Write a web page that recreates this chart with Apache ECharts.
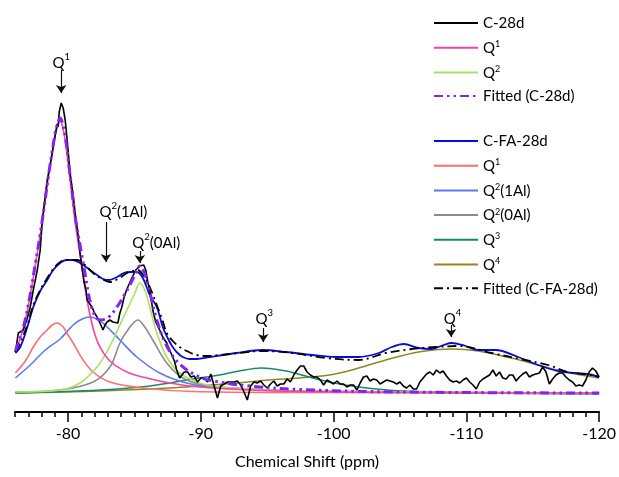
<!DOCTYPE html>
<html><head><meta charset="utf-8">
<script src="https://cdn.jsdelivr.net/npm/echarts@6/dist/echarts.min.js"></script>
<style>html,body{margin:0;padding:0;background:#fff}#c{width:619px;height:477px}</style>
</head><body><div id="c"></div>
<script>
// ---- data (x = chemical shift in ppm, y = intensity a.u.) ----
const xTickLabels = [-80, -90, -100, -110, -120];

const c28d = [[-76.03,41],[-76.25,60],[-76.40,58],[-76.63,63],[-76.93,75],[-77.15,86],[-77.38,103],[-77.68,123],[-77.90,143],[-78.05,171],[-78.28,198],[-78.43,213],[-78.65,228],[-78.88,246],[-79.03,258],[-79.18,269],[-79.25,266],[-79.33,281],[-79.48,290],[-79.63,285],[-79.78,273],[-79.93,253],[-80.15,220],[-80.38,198],[-80.53,180],[-80.75,158],[-80.90,140],[-81.05,125],[-81.20,111],[-81.35,103],[-81.43,93],[-81.58,91],[-81.80,86],[-81.95,81],[-82.18,76],[-82.40,70],[-82.63,63],[-82.78,68],[-82.93,71],[-83.15,73],[-83.38,71],[-83.53,72],[-83.75,70],[-83.90,80],[-84.05,86],[-84.20,95],[-84.35,101],[-84.50,106],[-84.65,108],[-84.80,115],[-84.95,117],[-85.10,123],[-85.25,121],[-85.40,127],[-85.55,125],[-85.70,128],[-85.85,123],[-86.00,111],[-86.15,103],[-86.38,83],[-86.60,71],[-86.90,63],[-87.13,56],[-87.43,50],[-87.65,43],[-87.88,36],[-88.03,31],[-88.18,23],[-88.40,15],
[-88.5,16],[-88.75,21],[-89,21],[-89.25,16],[-89.5,17],[-89.75,11],[-90,15],[-90.25,15],[-90.5,11],[-90.75,19],[-91,7],[-91.25,-5],[-91.5,7],[-91.75,9],[-92,11],[-92.25,11],[-92.5,11],[-92.75,12],[-93,8],[-93.25,1],[-93.5,-7],[-93.75,7],[-94,11],[-94.25,10],[-94.5,12],[-94.75,8],[-95,5],[-95.25,9],[-95.5,12],[-95.75,7],[-96,9],[-96.25,9],[-96.5,14],[-96.75,11],[-97,18],[-97.25,23],[-97.5,27],[-97.75,27],[-98,21],[-98.25,18],[-98.5,16],[-98.75,16],[-99,13],[-99.25,8],[-99.5,13],[-99.75,11],[-100,9],[-100.25,12],[-100.5,9],[-100.75,9],[-101,6],[-101.25,8],[-101.5,8],[-101.75,3],[-102,10],[-102.25,16],[-102.5,17],[-102.75,12],[-103,14],[-103.25,13],[-103.5,9],[-103.75,11],[-104,13],[-104.25,12],[-104.5,11],[-104.75,9],[-105,11],[-105.25,7],[-105.5,5],[-105.75,8],[-106,4],[-106.25,4],[-106.5,11],[-106.75,15],[-107,19],[-107.25,21],[-107.5,18],[-107.75,23],[-108,20],[-108.25,22],[-108.5,17],[-108.75,13],[-109,11],[-109.25,12],[-109.5,10],[-109.75,13],[-110,15],[-110.25,11],[-110.5,8],[-110.75,4],[-111,11],[-111.25,14],[-111.5,16],[-111.75,18],[-112,23],[-112.25,17],[-112.5,21],[-112.75,15],[-113,14],[-113.25,18],[-113.5,18],[-113.75,12],[-114,16],[-114.25,19],[-114.5,21],[-114.75,16],[-115,18],[-115.25,19],[-115.5,20],[-115.75,26],[-116,21],[-116.25,9],[-116.5,14],[-116.75,18],[-117,20],[-117.25,20],[-117.5,16],[-117.75,13],[-118,11],[-118.25,7],[-118.5,8],[-118.75,7],[-119,13],[-119.25,21],[-119.5,25],[-119.75,22],[-120,16]];

const q1C28d = [[-76.03,41],[-76.40,55],[-76.78,73],[-77.15,98],[-77.53,128],[-77.90,158],[-78.28,193],[-78.65,228],[-79.03,258],[-79.25,269],[-79.40,272],[-79.55,268],[-79.78,253],[-80.15,213],[-80.53,171],[-80.90,138],[-81.28,105],[-81.65,78],[-82.03,58],[-82.40,46],[-83.15,32],[-84.43,21],[-85.93,15],[-87.65,10],[-89.90,6],[-93.65,3],[-97.40,1.5],[-104.9,0.5],[-120,0]];

const q2C28d = [[-76.03,1],[-79.40,3],[-80.90,10],[-82.18,26],[-82.78,38],[-83.38,53],[-83.90,68],[-84.43,83],[-85.03,100],[-85.40,110],[-85.78,103],[-86.15,86],[-86.68,60],[-87.43,36],[-88.40,20],[-89.90,10],[-91.40,6],[-97.40,2],[-120,0]];

const fitC28d = [[-76.03,42],[-76.40,56],[-76.78,74],[-77.15,99],[-77.53,129],[-77.90,159],[-78.28,194],[-78.65,229],[-79.03,260],[-79.25,271],[-79.40,275],[-79.55,271],[-79.78,257],[-80.15,218],[-80.53,177],[-80.90,148],[-81.28,119],[-81.65,92],[-82.03,77],[-82.40,73],[-82.78,74],[-83.15,77],[-83.68,86],[-84.28,99],[-84.65,108],[-85.03,118],[-85.40,127],[-85.78,119],[-86.15,101],[-86.68,73],[-87.43,47],[-88.40,29],[-89.90,16],[-91.40,11],[-93.65,7],[-97.40,3.5],[-104.9,1],[-120,0]];

const cFA28d = [[-76.03,40],[-76.40,46],[-76.93,66],[-77.38,86],[-77.90,102],[-78.43,113],[-78.88,123],[-79.40,130],[-79.85,133],[-80.30,133],[-80.75,131],[-81.13,128],[-81.65,123],[-82.18,118],[-82.63,114],[-83.08,113],[-83.68,116],[-84.20,120],[-84.65,121],[-85.18,121],[-85.63,115],[-86.15,98],[-86.68,86],[-87.13,66],[-87.50,55],[-87.88,46],[-88.25,40],[-88.63,36],[-89.15,34],[-89.68,34],[-90.65,36],[-92.68,40],[-94.63,43],[-96.43,41],[-98.38,38],[-100.18,36],[-101.90,36],[-103.40,40],[-104.38,46],[-105.28,49],[-106.40,45],[-107.38,44],[-108.28,48],[-108.88,50],[-109.93,47],[-110.90,43],[-112.18,43],[-113.90,36],[-115.40,28],[-116.90,22],[-118.18,20],[-119.15,19],[-120,16]];

const q1CFA = [[-76.03,20],[-76.78,32],[-77.38,46],[-77.90,56],[-78.43,63],[-78.80,68],[-79.18,70],[-79.63,66],[-80.00,58],[-80.38,50],[-81.13,33],[-81.88,21],[-83.15,11],[-85.63,5],[-89.38,1.5],[-97.40,0.5],[-120,0]];

const q2Al1 = [[-76.03,15],[-77.15,28],[-78.28,43],[-79.40,54],[-80.38,68],[-81.05,74],[-81.65,76],[-82.18,74],[-82.63,70],[-83.90,53],[-85.18,36],[-86.90,20],[-88.93,10],[-91.40,5],[-97.40,2],[-120,0]];

const q2Al0 = [[-76.03,1],[-79.40,3],[-81.88,11],[-83.15,26],[-83.90,50],[-84.50,63],[-85.25,73],[-85.78,66],[-86.38,53],[-87.43,30],[-88.63,15],[-90.13,8],[-91.40,6],[-97.40,2],[-120,0]];

const q3CFA = [[-76.03,0],[-82.40,3],[-86.15,7],[-89.38,14],[-91.40,18],[-92.90,22],[-94.55,25],[-96.43,22],[-98.15,16],[-99.65,11],[-101.9,6],[-105.13,2],[-110.9,0],[-120,-1]];

const q4CFA = [[-76.03,0],[-82.40,2],[-87.65,5],[-92.68,10],[-95.15,13],[-97.40,15],[-99.65,18],[-101.38,23],[-103.93,33],[-106.40,41],[-108.88,44],[-110.90,42],[-113.38,35],[-115.40,28],[-117.43,21],[-120,15]];

const fitCFA = [[-76.03,41],[-76.40,50],[-76.93,68],[-77.38,88],[-77.90,103],[-78.43,115],[-78.88,124],[-79.40,131],[-80.00,133],[-80.68,133],[-81.28,128],[-81.88,120],[-82.55,114],[-83.15,111],[-83.75,114],[-84.43,120],[-84.88,122],[-85.25,123],[-85.70,117],[-86.15,106],[-86.68,88],[-87.13,72],[-87.43,60],[-87.88,52],[-88.40,46],[-88.93,42],[-89.68,38],[-90.65,37],[-91.40,38],[-92.90,40],[-94.63,42],[-96.88,40],[-99.43,35],[-101.90,33],[-103.93,40],[-105.88,44],[-107.68,46],[-109.40,47],[-111.88,40],[-114.43,33],[-116.15,28],[-117.65,21],[-119.38,18],[-120,16]];

// peak annotations
const annLabels = ['Q1', 'Q2(1Al)', 'Q2(0Al)', 'Q3', 'Q4'];
const annLabelX = [-79.48, -84.16, -86.64, -94.78, -108.95];
const annLabelY = [332, 183, 152, 76, 76];
const arrowX = [-79.48, -82.85, -85.4, -94.7, -108.85];
const arrowFrom = [323, 171, 142, 65, 68];
const arrowTo = [300, 131, 130, 51, 56];

// ---- chart ----
const FONT = 'Lato, "Open Sans", sans-serif';
const TXT = '#000';
const legendText = {
  'C-28d': '{n|C-28d}',
  'Q1 (C-28d)': '{n|Q}{s|1}',
  'Q2 (C-28d)': '{n|Q}{s|2}',
  'Fitted (C-28d)': '{n|Fitted (C-28d)}',
  'C-FA-28d': '{n|C-FA-28d}',
  'Q1 (C-FA-28d)': '{n|Q}{s|1}',
  'Q2(1Al)': '{n|Q}{s|2}{n|(1Al)}',
  'Q2(0Al)': '{n|Q}{s|2}{n|(0Al)}',
  'Q3': '{n|Q}{s|3}',
  'Q4': '{n|Q}{s|4}',
  'Fitted (C-FA-28d)': '{n|Fitted (C-FA-28d)}'
};
const annText = {
  'Q1': '{n|Q}{s|1}', 'Q2(1Al)': '{n|Q}{s|2}{n|(1Al)}', 'Q2(0Al)': '{n|Q}{s|2}{n|(0Al)}',
  'Q3': '{n|Q}{s|3}', 'Q4': '{n|Q}{s|4}'
};

function line(name, data, color, width, type, smooth, z) {
  return {
    name, type: 'line', data, xAxisIndex: 0, yAxisIndex: 0,
    showSymbol: false, symbol: 'none', smooth: smooth, z: z || 2,
    lineStyle: { color, width, type: type || 'solid' },
    itemStyle: { color },
    animation: false, silent: true
  };
}

const legendRich = {
  n: { fontSize: 15, fontFamily: FONT, color: TXT, lineHeight: 16, verticalAlign: 'bottom' },
  s: { fontSize: 9, fontFamily: FONT, color: TXT, lineHeight: 9, verticalAlign: 'top' }
};
const annRich = {
  n: { fontSize: 15, fontFamily: FONT, color: TXT, lineHeight: 19, verticalAlign: 'bottom', textBorderWidth: 0, opacity: 1 },
  s: { fontSize: 9.5, fontFamily: FONT, color: TXT, lineHeight: 10, verticalAlign: 'top', textBorderWidth: 0, opacity: 1 }
};

const annData = annLabels.map((t, i) => ({ name: t, value: [annLabelX[i], annLabelY[i]] }));
const arrowData = arrowX.map((x, i) => [{ coord: [x, arrowFrom[i]] }, { coord: [x, arrowTo[i]] }]);

const legendBase = {
  orient: 'vertical', left: 428, itemWidth: 44, itemHeight: 14, itemGap: 8.7,
  selectedMode: false, formatter: n => legendText[n],
  itemStyle: { opacity: 0, borderWidth: 0 },
  textStyle: { rich: legendRich, fontFamily: FONT, fontSize: 15, color: TXT }
};

const chart = echarts.init(document.getElementById('c'), null, { renderer: 'canvas' });
chart.setOption({
  animation: false,
  backgroundColor: '#fff',
  grid: { left: 15, right: 18, top: 12, bottom: 65, containLabel: false },
  legend: [
    Object.assign({}, legendBase, {
      data: ['C-28d', 'Q1 (C-28d)', 'Q2 (C-28d)', 'Fitted (C-28d)'], top: 11
    }),
    Object.assign({}, legendBase, {
      data: ['C-FA-28d', 'Q1 (C-FA-28d)', 'Q2(1Al)', 'Q2(0Al)', 'Q3', 'Q4', 'Fitted (C-FA-28d)'], top: 129
    })
  ],
  xAxis: [
    {
      type: 'value', min: -120, max: -76, interval: 1, inverse: true, position: 'bottom',
      axisLine: { show: true, onZero: false, lineStyle: { color: '#000', width: 2 } },
      axisTick: { show: true, length: 5, lineStyle: { color: '#000', width: 1.5 } },
      axisLabel: { show: false }, splitLine: { show: false }
    },
    {
      type: 'value', min: -120, max: -76, interval: 10, inverse: true, position: 'bottom',
      axisLine: { show: false, onZero: false },
      axisTick: { show: true, length: 10, customValues: xTickLabels, lineStyle: { color: '#000', width: 1.5 } },
      axisLabel: { show: true, customValues: xTickLabels, fontSize: 16, fontFamily: FONT, color: TXT, margin: 14 },
      splitLine: { show: false },
      name: 'Chemical Shift (ppm)', nameLocation: 'middle', nameGap: 42,
      nameTextStyle: { fontSize: 16, fontFamily: FONT, color: TXT }
    }
  ],
  yAxis: { type: 'value', min: -19, max: 381, show: false, splitLine: { show: false } },
  series: [
    line('Q4', q4CFA, '#8C8A1C', 1.6, 'solid', 0.35),
    line('Q3', q3CFA, '#148C6A', 1.6, 'solid', 0.35),
    line('Q2(0Al)', q2Al0, '#8C8C8C', 1.6, 'solid', 0.35),
    line('Q2(1Al)', q2Al1, '#5B7BF0', 1.6, 'solid', 0.35),
    line('Q1 (C-FA-28d)', q1CFA, '#FF6F6F', 1.6, 'solid', 0.35),
    line('Q2 (C-28d)', q2C28d, '#A8E063', 1.6, 'solid', 0.35),
    line('Q1 (C-28d)', q1C28d, '#FF3FA8', 1.6, 'solid', 0.35),
    line('C-FA-28d', cFA28d, '#0B0BD6', 1.8, 'solid', 0.35, 3),
    line('Fitted (C-FA-28d)', fitCFA, '#000000', 1.8, [9, 4, 2, 4], 0.35, 3),
    line('C-28d', c28d, '#000000', 1.6, 'solid', false, 4),
    line('Fitted (C-28d)', fitC28d, '#8424F0', 3, [9, 4, 2.5, 4, 2.5, 4], 0.35, 5),
    {
      name: 'annotations', type: 'scatter', data: annData, symbolSize: 0, silent: true, z: 6,
      itemStyle: { color: '#000', opacity: 1 },
      label: { show: true, position: 'inside', color: '#000', textBorderWidth: 0, opacity: 1,
               formatter: p => annText[p.name], rich: annRich },
      markLine: {
        silent: true, animation: false, symbol: ['none', 'arrow'], symbolSize: 8,
        lineStyle: { color: '#111', width: 1.2, type: 'solid', opacity: 1 },
        label: { show: false }, data: arrowData
      }
    }
  ]
});
</script>
</body></html>
